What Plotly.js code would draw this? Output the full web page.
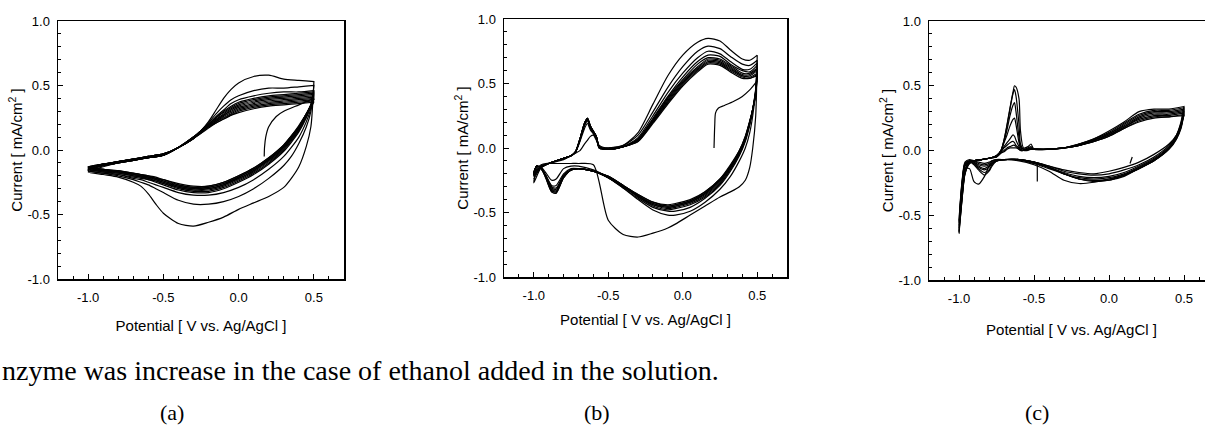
<!DOCTYPE html>
<html><head><meta charset="utf-8">
<script src="https://cdn.plot.ly/plotly-3.0.1.min.js"></script>
<style>html,body{margin:0;padding:0;overflow:hidden;background:#fff;width:1205px;height:428px}</style>
</head><body><div id="chart" style="width:1215px;height:428px"></div>
<script>
// ---------- common tick labels ----------
const xTickVals = [-1.0, -0.5, 0.0, 0.5];
const xTickText = ['-1.0', '-0.5', '0.0', '0.5'];
const yTickVals = [-1.0, -0.5, 0.0, 0.5, 1.0];
const yTickText = ['-1.0', '-0.5', '0.0', '0.5', '1.0'];
const panelLabels = ['(a)', '(b)', '(c)'];
const xTitle = 'Potential [ V vs. Ag/AgCl ]';
const yTitle = 'Current [ mA/cm<sup>2</sup> ]';
const caption = 'nzyme was increase in the case of ethanol added in the solution.';

// ---------- panel (a) ----------
const aUpE = [-1.0,-0.9,-0.8,-0.7,-0.6,-0.5,-0.4,-0.3,-0.25,-0.2,-0.15,-0.1,-0.05,0.0,0.1,0.2,0.3,0.4,0.5];
const aDownE = [0.5,0.48,0.45,0.4,0.35,0.3,0.2,0.1,0.0,-0.1,-0.2,-0.3,-0.4,-0.5,-0.55,-0.6,-0.65,-0.7,-0.8,-0.9,-1.0];
const aUpI = [
 [-0.17,-0.13,-0.10,-0.08,-0.06,-0.04,0.02,0.10,0.15,0.22,0.31,0.40,0.47,0.52,0.57,0.58,0.55,0.54,0.53],
 [-0.16,-0.12,-0.10,-0.08,-0.06,-0.04,0.02,0.10,0.15,0.21,0.28,0.34,0.39,0.42,0.46,0.48,0.48,0.49,0.50],
 [-0.16,-0.12,-0.10,-0.08,-0.06,-0.04,0.02,0.10,0.15,0.20,0.26,0.31,0.36,0.39,0.42,0.44,0.45,0.45,0.46],
 [-0.15,-0.12,-0.10,-0.08,-0.06,-0.04,0.02,0.10,0.15,0.20,0.25,0.30,0.34,0.37,0.40,0.42,0.43,0.44,0.45],
 [-0.15,-0.12,-0.10,-0.08,-0.06,-0.04,0.02,0.10,0.15,0.20,0.25,0.29,0.33,0.36,0.39,0.41,0.42,0.43,0.44],
 [-0.15,-0.12,-0.09,-0.08,-0.06,-0.04,0.02,0.09,0.14,0.19,0.24,0.28,0.32,0.35,0.38,0.40,0.41,0.42,0.43],
 [-0.14,-0.11,-0.09,-0.07,-0.06,-0.04,0.02,0.09,0.14,0.19,0.23,0.27,0.31,0.34,0.37,0.39,0.40,0.41,0.42],
 [-0.14,-0.11,-0.09,-0.07,-0.05,-0.03,0.02,0.09,0.14,0.19,0.23,0.27,0.30,0.33,0.36,0.38,0.39,0.40,0.41],
 [-0.14,-0.11,-0.09,-0.07,-0.05,-0.03,0.02,0.09,0.14,0.18,0.22,0.26,0.29,0.32,0.35,0.37,0.38,0.39,0.40],
 [-0.14,-0.11,-0.09,-0.07,-0.05,-0.03,0.02,0.09,0.14,0.18,0.22,0.25,0.28,0.31,0.34,0.36,0.37,0.38,0.39],
 [-0.13,-0.11,-0.09,-0.07,-0.05,-0.03,0.02,0.09,0.13,0.18,0.21,0.24,0.27,0.30,0.33,0.35,0.36,0.37,0.38],
 [-0.13,-0.11,-0.09,-0.07,-0.05,-0.03,0.02,0.09,0.13,0.17,0.21,0.24,0.27,0.29,0.32,0.34,0.35,0.36,0.37]
];
const aDownI = [
 [0.53,0.18,0.03,-0.13,-0.22,-0.29,-0.36,-0.41,-0.46,-0.52,-0.56,-0.59,-0.57,-0.49,-0.42,-0.34,-0.28,-0.25,-0.21,-0.19,-0.17],
 [0.50,0.30,0.18,0.05,-0.05,-0.12,-0.22,-0.30,-0.36,-0.40,-0.42,-0.42,-0.39,-0.33,-0.30,-0.27,-0.25,-0.23,-0.20,-0.18,-0.16],
 [0.46,0.32,0.22,0.10,0.02,-0.05,-0.15,-0.23,-0.29,-0.33,-0.35,-0.35,-0.33,-0.29,-0.27,-0.25,-0.23,-0.22,-0.19,-0.18,-0.16],
 [0.45,0.34,0.25,0.14,0.06,-0.01,-0.11,-0.19,-0.25,-0.30,-0.33,-0.33,-0.31,-0.27,-0.25,-0.23,-0.22,-0.21,-0.19,-0.17,-0.15],
 [0.44,0.35,0.26,0.15,0.07,0.00,-0.10,-0.18,-0.24,-0.29,-0.32,-0.32,-0.30,-0.26,-0.24,-0.23,-0.21,-0.20,-0.18,-0.17,-0.15],
 [0.43,0.35,0.27,0.16,0.08,0.01,-0.09,-0.17,-0.23,-0.28,-0.31,-0.31,-0.29,-0.26,-0.24,-0.22,-0.21,-0.20,-0.18,-0.16,-0.15],
 [0.42,0.35,0.27,0.17,0.09,0.02,-0.08,-0.16,-0.22,-0.27,-0.30,-0.31,-0.29,-0.25,-0.23,-0.22,-0.20,-0.19,-0.17,-0.16,-0.14],
 [0.41,0.35,0.28,0.17,0.09,0.02,-0.08,-0.16,-0.22,-0.27,-0.30,-0.30,-0.28,-0.25,-0.23,-0.21,-0.20,-0.19,-0.17,-0.16,-0.14],
 [0.40,0.35,0.28,0.18,0.10,0.03,-0.07,-0.15,-0.21,-0.26,-0.29,-0.30,-0.28,-0.24,-0.22,-0.21,-0.20,-0.19,-0.17,-0.15,-0.14],
 [0.39,0.34,0.28,0.18,0.10,0.03,-0.07,-0.15,-0.21,-0.26,-0.29,-0.29,-0.27,-0.24,-0.22,-0.21,-0.19,-0.18,-0.17,-0.15,-0.14],
 [0.38,0.34,0.28,0.18,0.11,0.04,-0.06,-0.14,-0.20,-0.25,-0.28,-0.29,-0.27,-0.23,-0.22,-0.20,-0.19,-0.18,-0.16,-0.15,-0.13],
 [0.37,0.33,0.28,0.19,0.11,0.04,-0.06,-0.14,-0.20,-0.25,-0.28,-0.28,-0.26,-0.23,-0.21,-0.20,-0.19,-0.18,-0.16,-0.15,-0.13]
];
const aStartE = [0.17,0.172,0.18,0.2,0.25,0.3,0.4,0.5];
const aStartI = [-0.05,0.02,0.10,0.18,0.26,0.30,0.35,0.40];

// ---------- panel (b) ----------
const bUpE = [-1.0,-0.95,-0.9,-0.8,-0.75,-0.72,-0.69,-0.66,-0.64,-0.62,-0.6,-0.58,-0.56,-0.5,-0.4,-0.3,-0.2,-0.1,0.0,0.1,0.17,0.25,0.32,0.4,0.45,0.5];
const bDownE = [0.5,0.49,0.47,0.45,0.42,0.38,0.32,0.25,0.15,0.05,-0.05,-0.1,-0.2,-0.3,-0.4,-0.5,-0.6,-0.7,-0.75,-0.8,-0.85,-0.88,-0.92,-0.95,-0.98,-1.0];
const bUpI = [
 [-0.27,-0.15,-0.12,-0.09,-0.06,-0.04,-0.02,0.03,0.06,0.09,0.10,0.06,0.02,0.00,0.02,0.12,0.34,0.56,0.72,0.82,0.85,0.83,0.76,0.69,0.68,0.72],
 [-0.24,-0.15,-0.12,-0.08,-0.06,-0.03,0.05,0.15,0.19,0.14,0.11,0.07,0.00,0.00,0.02,0.10,0.28,0.47,0.63,0.75,0.79,0.77,0.71,0.65,0.64,0.68],
 [-0.22,-0.15,-0.12,-0.08,-0.06,-0.03,0.06,0.17,0.21,0.15,0.12,0.08,0.00,0.00,0.01,0.08,0.25,0.43,0.58,0.70,0.75,0.73,0.67,0.61,0.61,0.66],
 [-0.22,-0.15,-0.12,-0.08,-0.06,-0.03,0.06,0.18,0.22,0.16,0.12,0.08,0.00,-0.01,0.01,0.07,0.23,0.40,0.55,0.67,0.72,0.71,0.65,0.60,0.59,0.64],
 [-0.21,-0.15,-0.12,-0.08,-0.06,-0.03,0.07,0.18,0.22,0.16,0.12,0.08,0.00,-0.01,0.01,0.07,0.22,0.39,0.53,0.65,0.70,0.69,0.64,0.58,0.58,0.62],
 [-0.21,-0.15,-0.12,-0.08,-0.06,-0.03,0.07,0.19,0.23,0.16,0.13,0.09,0.00,-0.01,0.01,0.06,0.21,0.38,0.52,0.63,0.69,0.68,0.63,0.57,0.57,0.61],
 [-0.20,-0.15,-0.12,-0.08,-0.06,-0.03,0.07,0.19,0.23,0.17,0.13,0.09,0.01,-0.01,0.01,0.06,0.21,0.37,0.51,0.62,0.68,0.67,0.62,0.56,0.56,0.60],
 [-0.20,-0.14,-0.12,-0.08,-0.06,-0.03,0.07,0.19,0.23,0.17,0.13,0.09,0.01,-0.01,0.01,0.06,0.20,0.36,0.50,0.61,0.67,0.66,0.61,0.56,0.55,0.58],
 [-0.20,-0.14,-0.12,-0.08,-0.06,-0.03,0.07,0.19,0.23,0.17,0.13,0.09,0.01,-0.01,0.01,0.05,0.20,0.35,0.49,0.60,0.66,0.65,0.60,0.55,0.54,0.57],
 [-0.19,-0.14,-0.12,-0.08,-0.06,-0.03,0.07,0.19,0.23,0.17,0.13,0.09,0.01,-0.01,0.01,0.05,0.19,0.34,0.48,0.59,0.65,0.64,0.59,0.54,0.54,0.56]
];
const bDownI = [
 [0.72,0.25,0.00,-0.15,-0.25,-0.30,-0.34,-0.38,-0.45,-0.52,-0.59,-0.62,-0.66,-0.69,-0.67,-0.56,-0.13,-0.12,-0.12,-0.12,-0.12,-0.12,-0.12,-0.13,-0.16,-0.27],
 [0.68,0.45,0.25,0.12,0.00,-0.10,-0.22,-0.32,-0.42,-0.49,-0.52,-0.52,-0.48,-0.40,-0.31,-0.23,-0.17,-0.14,-0.14,-0.16,-0.24,-0.25,-0.19,-0.15,-0.14,-0.22],
 [0.66,0.46,0.30,0.18,0.05,-0.06,-0.18,-0.29,-0.39,-0.46,-0.49,-0.49,-0.46,-0.39,-0.31,-0.23,-0.18,-0.16,-0.16,-0.20,-0.29,-0.29,-0.21,-0.16,-0.14,-0.21],
 [0.64,0.45,0.30,0.19,0.06,-0.05,-0.17,-0.28,-0.38,-0.44,-0.47,-0.48,-0.45,-0.38,-0.30,-0.23,-0.18,-0.16,-0.17,-0.21,-0.31,-0.30,-0.21,-0.16,-0.14,-0.21],
 [0.62,0.44,0.30,0.19,0.07,-0.04,-0.16,-0.27,-0.37,-0.43,-0.46,-0.47,-0.44,-0.38,-0.30,-0.23,-0.18,-0.16,-0.17,-0.22,-0.32,-0.31,-0.22,-0.16,-0.14,-0.20],
 [0.61,0.43,0.30,0.20,0.07,-0.04,-0.15,-0.26,-0.36,-0.42,-0.45,-0.46,-0.44,-0.37,-0.30,-0.23,-0.18,-0.16,-0.17,-0.22,-0.33,-0.32,-0.22,-0.16,-0.14,-0.20],
 [0.60,0.43,0.30,0.20,0.08,-0.03,-0.15,-0.25,-0.35,-0.42,-0.45,-0.46,-0.43,-0.37,-0.29,-0.22,-0.18,-0.16,-0.17,-0.22,-0.34,-0.33,-0.22,-0.16,-0.14,-0.20],
 [0.58,0.42,0.30,0.20,0.08,-0.03,-0.14,-0.25,-0.35,-0.41,-0.44,-0.45,-0.43,-0.37,-0.29,-0.22,-0.18,-0.16,-0.17,-0.23,-0.34,-0.33,-0.22,-0.16,-0.14,-0.20],
 [0.57,0.42,0.30,0.21,0.09,-0.02,-0.14,-0.24,-0.34,-0.41,-0.44,-0.45,-0.42,-0.36,-0.29,-0.22,-0.18,-0.16,-0.17,-0.23,-0.35,-0.34,-0.23,-0.16,-0.14,-0.19],
 [0.56,0.41,0.30,0.21,0.09,-0.02,-0.13,-0.24,-0.34,-0.40,-0.43,-0.44,-0.42,-0.36,-0.29,-0.22,-0.18,-0.16,-0.17,-0.23,-0.35,-0.34,-0.23,-0.16,-0.14,-0.19]
];
const bStartE = [0.21,0.212,0.215,0.22,0.24,0.28,0.34,0.4,0.45,0.5];
const bStartI = [0.00,0.08,0.18,0.27,0.31,0.33,0.36,0.40,0.45,0.52];

// ---------- panel (c) ----------
const cUpE = [-1.0,-0.98,-0.96,-0.93,-0.9,-0.85,-0.8,-0.75,-0.72,-0.7,-0.68,-0.66,-0.64,-0.63,-0.62,-0.6,-0.59,-0.57,-0.54,-0.52,-0.5,-0.4,-0.3,-0.2,-0.1,0.0,0.1,0.2,0.3,0.4,0.5];
const cDownE = [0.5,0.48,0.45,0.4,0.3,0.2,0.1,0.0,-0.1,-0.2,-0.3,-0.4,-0.5,-0.6,-0.7,-0.75,-0.78,-0.8,-0.83,-0.87,-0.9,-0.93,-0.96,-0.98,-1.0];
const cUpI = [
 [-0.63,-0.38,-0.18,-0.10,-0.08,-0.07,-0.06,-0.04,0.00,0.08,0.20,0.33,0.45,0.50,0.49,0.40,0.15,0.02,0.03,0.05,0.01,0.01,0.02,0.04,0.07,0.11,0.17,0.22,0.25,0.26,0.27],
 [-0.64,-0.38,-0.18,-0.10,-0.08,-0.07,-0.06,-0.04,0.00,0.08,0.19,0.32,0.44,0.47,0.42,0.20,0.05,0.01,0.02,0.03,0.01,0.01,0.02,0.05,0.09,0.15,0.22,0.30,0.32,0.32,0.34],
 [-0.62,-0.37,-0.17,-0.10,-0.08,-0.07,-0.06,-0.04,0.00,0.07,0.16,0.27,0.35,0.37,0.30,0.10,0.03,0.01,0.01,0.02,0.01,0.01,0.02,0.05,0.09,0.14,0.21,0.28,0.31,0.31,0.33],
 [-0.60,-0.36,-0.17,-0.09,-0.08,-0.07,-0.06,-0.04,0.00,0.06,0.12,0.19,0.24,0.25,0.20,0.06,0.02,0.01,0.01,0.02,0.01,0.01,0.02,0.05,0.08,0.13,0.20,0.27,0.30,0.30,0.32],
 [-0.58,-0.35,-0.16,-0.09,-0.08,-0.07,-0.06,-0.04,-0.01,0.03,0.06,0.09,0.12,0.11,0.08,0.03,0.01,0.00,0.01,0.01,0.01,0.01,0.02,0.04,0.08,0.13,0.19,0.26,0.29,0.29,0.31],
 [-0.56,-0.34,-0.16,-0.09,-0.08,-0.07,-0.06,-0.05,-0.01,0.02,0.04,0.06,0.07,0.06,0.04,0.02,0.01,0.00,0.01,0.01,0.01,0.01,0.02,0.04,0.08,0.12,0.18,0.25,0.28,0.28,0.30],
 [-0.55,-0.33,-0.15,-0.09,-0.08,-0.07,-0.06,-0.05,-0.02,0.00,0.02,0.03,0.04,0.04,0.03,0.01,0.00,0.00,0.01,0.01,0.01,0.01,0.02,0.04,0.07,0.12,0.18,0.24,0.27,0.27,0.29],
 [-0.54,-0.32,-0.15,-0.09,-0.08,-0.07,-0.06,-0.05,-0.02,-0.01,0.01,0.02,0.02,0.02,0.02,0.01,0.00,0.00,0.00,0.01,0.01,0.01,0.02,0.04,0.07,0.11,0.17,0.23,0.26,0.26,0.28]
];
const cDownI = [
 [0.27,0.20,0.11,0.02,-0.08,-0.14,-0.19,-0.22,-0.245,-0.255,-0.23,-0.16,-0.11,-0.08,-0.07,-0.08,-0.10,-0.12,-0.20,-0.26,-0.24,-0.14,-0.14,-0.30,-0.63],
 [0.34,0.22,0.12,0.05,-0.03,-0.09,-0.13,-0.16,-0.18,-0.17,-0.15,-0.12,-0.09,-0.07,-0.07,-0.08,-0.12,-0.16,-0.19,-0.15,-0.11,-0.09,-0.12,-0.30,-0.64],
 [0.33,0.21,0.12,0.04,-0.05,-0.11,-0.15,-0.18,-0.19,-0.18,-0.16,-0.12,-0.09,-0.07,-0.07,-0.08,-0.11,-0.15,-0.17,-0.14,-0.10,-0.09,-0.12,-0.29,-0.62],
 [0.32,0.20,0.11,0.03,-0.06,-0.12,-0.17,-0.20,-0.21,-0.20,-0.17,-0.13,-0.09,-0.07,-0.07,-0.08,-0.10,-0.13,-0.15,-0.13,-0.10,-0.09,-0.11,-0.28,-0.60],
 [0.31,0.19,0.10,0.02,-0.07,-0.13,-0.18,-0.21,-0.22,-0.21,-0.18,-0.13,-0.09,-0.07,-0.07,-0.08,-0.10,-0.12,-0.14,-0.12,-0.09,-0.08,-0.11,-0.27,-0.58],
 [0.30,0.18,0.10,0.02,-0.07,-0.13,-0.19,-0.22,-0.23,-0.22,-0.18,-0.13,-0.09,-0.07,-0.07,-0.07,-0.09,-0.11,-0.12,-0.11,-0.09,-0.08,-0.10,-0.26,-0.56],
 [0.29,0.18,0.09,0.01,-0.08,-0.14,-0.19,-0.23,-0.23,-0.22,-0.18,-0.13,-0.10,-0.07,-0.07,-0.07,-0.08,-0.10,-0.11,-0.10,-0.08,-0.08,-0.10,-0.25,-0.55],
 [0.28,0.17,0.09,0.01,-0.08,-0.14,-0.20,-0.23,-0.24,-0.22,-0.18,-0.14,-0.10,-0.07,-0.07,-0.07,-0.08,-0.09,-0.10,-0.09,-0.08,-0.07,-0.09,-0.24,-0.54]
];
const cSpikeE = [-0.478, -0.478];
const cSpikeI = [-0.11, -0.24];
const cTickE = [0.14, 0.155];
const cTickI = [-0.10, -0.05];

// ---------- build traces ----------
const traces = [];
const lineStyle = {color: '#000', width: 1.2, shape: 'spline', smoothing: 0.7};
function addLoops(upE, upI, downE, downI, xa, ya) {
  for (let k = 0; k < upI.length; k++) {
    traces.push({type: 'scatter', mode: 'lines', x: upE.concat(downE), y: upI[k].concat(downI[k]),
      xaxis: xa, yaxis: ya, line: lineStyle, hoverinfo: 'skip'});
  }
}
function addPath(e, i, xa, ya, shape) {
  traces.push({type: 'scatter', mode: 'lines', x: e, y: i, xaxis: xa, yaxis: ya,
    line: {color: '#000', width: 1.2, shape: shape || 'spline', smoothing: 0.7}, hoverinfo: 'skip'});
}
addLoops(aUpE, aUpI, aDownE, aDownI, 'x', 'y');
addPath(aStartE, aStartI, 'x', 'y');
addLoops(bUpE, bUpI, bDownE, bDownI, 'x2', 'y2');
addPath(bStartE, bStartI, 'x2', 'y2');
addLoops(cUpE, cUpI, cDownE, cDownI, 'x3', 'y3');
addPath(cSpikeE, cSpikeI, 'x3', 'y3', 'linear');
addPath(cTickE, cTickI, 'x3', 'y3', 'linear');

// ---------- layout ----------
const W = 1215, H = 428;
const tickFont = {family: 'Liberation Sans, Arial, sans-serif', size: 13, color: '#000'};
const titleFont = {family: 'Liberation Sans, Arial, sans-serif', size: 15, color: '#000'};
const serifFont = 'Liberation Serif, Times New Roman, serif';
function xAxis(px0, px1, anchor, standoff) {
  return {domain: [px0 / W, px1 / W], anchor: anchor, range: [-1.2, 0.7],
    showline: true, mirror: true, linecolor: '#000', linewidth: 1.5,
    ticks: 'inside', ticklen: 5, tickwidth: 1, tickcolor: '#000',
    tickmode: 'array', tickvals: xTickVals, ticktext: xTickText, tickfont: tickFont,
    ticklabelstandoff: 6,
    minor: {tickmode: 'linear', tick0: 0, dtick: 0.1, ticks: 'inside', ticklen: 3, tickwidth: 1, tickcolor: '#000', showgrid: false},
    showgrid: false, zeroline: false, fixedrange: true,
    title: {text: xTitle, font: titleFont, standoff: standoff}};
}
function yAxis(py0, py1, anchor) {
  return {domain: [1 - py1 / H, 1 - py0 / H], anchor: anchor, range: [-1, 1],
    showline: true, mirror: true, linecolor: '#000', linewidth: 1.5,
    ticks: 'inside', ticklen: 5, tickwidth: 1, tickcolor: '#000',
    tickmode: 'array', tickvals: yTickVals, ticktext: yTickText, tickfont: tickFont,
    ticklabelstandoff: 4,
    minor: {tickmode: 'linear', tick0: 0, dtick: 0.1, ticks: 'inside', ticklen: 3, tickwidth: 1, tickcolor: '#000', showgrid: false},
    showgrid: false, zeroline: false, fixedrange: true,
    title: {text: yTitle, font: titleFont, standoff: 1}};
}
function label(text, px, py) {
  return {text: text, xref: 'paper', yref: 'paper', x: px / W, y: 1 - py / H, xanchor: 'center', yanchor: 'middle',
    showarrow: false, font: {family: serifFont, size: 22, color: '#000'}};
}
const layout = {
  width: W, height: H, margin: {l: 0, r: 0, t: 0, b: 0, pad: 0},
  paper_bgcolor: '#fff', plot_bgcolor: '#fff', showlegend: false,
  xaxis: xAxis(58, 344, 'y', 16), yaxis: yAxis(21, 279, 'x'),
  xaxis2: xAxis(504, 787, 'y2', 12), yaxis2: yAxis(19, 277, 'x2'),
  xaxis3: xAxis(929, 1214, 'y3', 19), yaxis3: yAxis(21, 280, 'x3'),
  annotations: [
    {text: caption, xref: 'paper', yref: 'paper', x: 0, y: 1 - 370 / H, xanchor: 'left', yanchor: 'middle',
     showarrow: false, font: {family: serifFont, size: 28, color: '#000'}},
    label(panelLabels[0], 172, 412),
    label(panelLabels[1], 597, 412),
    label(panelLabels[2], 1037, 412)
  ]
};
Plotly.newPlot('chart', traces, layout, {staticPlot: true, displayModeBar: false});
</script>
</body></html>
